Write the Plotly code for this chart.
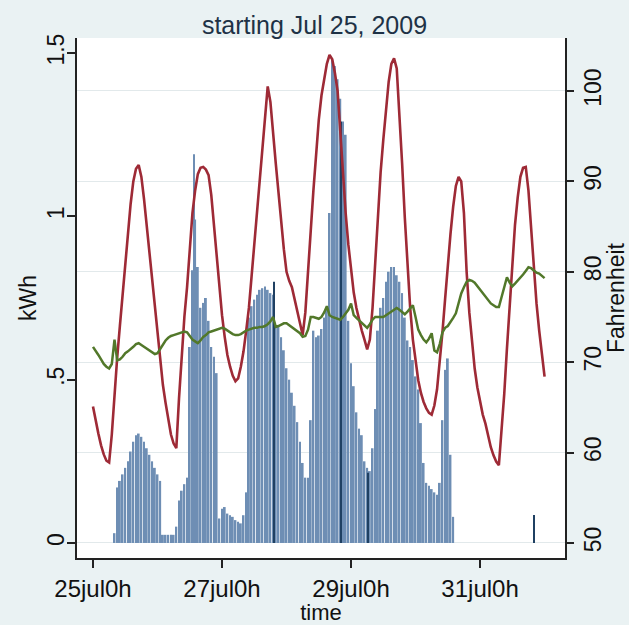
import plotly.graph_objects as go

# ---------------- data ----------------
# hourly electricity use (kWh), hours counted from Jul 25 2009 0h
bar_start_hour = 8
kwh = [
    0.03, 0.17, 0.19, 0.21, 0.23, 0.25, 0.28, 0.31, 0.33, 0.335, 0.325, 0.31, 0.29, 0.27, 0.25, 0.23, 0.21, 0.19,
    0.025, 0.025, 0.025, 0.025, 0.025,
    0.05, 0.13, 0.16, 0.18, 0.20,
    0.60, 0.835, 0.99, 0.845, 0.72, 0.735, 0.75, 0.68, 0.60, 0.57, 0.52,
    0.075, 0.105, 0.11, 0.09, 0.085, 0.08, 0.07, 0.065, 0.06, 0.085, 0.155,
    0.69, 0.725, 0.745, 0.76, 0.775, 0.78, 0.785, 0.775, 0.765, 0.76,
    0.66, 0.665, 0.63, 0.59, 0.535, 0.50, 0.46, 0.42, 0.37, 0.31, 0.245, 0.20, 0.20,
    0.376, 0.65, 0.63, 0.635, 0.655, 0.69, 0.72,
    1.01, 1.48, 1.46, 1.42, 1.36, 1.29, 1.25,
    0.68, 0.55, 0.48, 0.40, 0.35, 0.33, 0.25, 0.23, 0.22, 0.29, 0.41,
    0.65, 0.72, 0.75, 0.80, 0.83, 0.845, 0.845, 0.82, 0.80, 0.765,
    0.69, 0.62, 0.60, 0.56, 0.51, 0.47,
    0.367, 0.245, 0.184, 0.175, 0.165, 0.155, 0.148, 0.184,
    0.376, 0.53, 0.565, 0.27, 0.08,
]
bar_hours = list(range(bar_start_hour, bar_start_hour + len(kwh)))

# short extra readings (drawn as thin bars)
extra_hours = [37.5, 67.2, 92.3, 102.4, 164.0]
extra_kwh = [1.19, 0.80, 1.29, 0.215, 0.086]
extra_dark = [False, True, True, True, True]

# outdoor temperature (F), hourly from Jul 25 0h
temp_out = [
    65.1, 63.5, 62.1, 60.8, 59.8, 59.1, 58.9, 62.0, 66.5, 70.5, 74.0,
    77.5, 81.0, 84.5, 87.5, 90.0, 91.4, 91.8, 90.5, 88.0, 85.0,
    82.0, 79.0, 76.0, 73.0, 70.0, 67.5, 65.5, 63.5, 62.0, 61.0,
    60.5, 66.0, 71.0, 75.0, 78.3, 83.0, 86.5, 89.0, 90.8, 91.5,
    91.6, 91.3, 90.7, 88.5, 85.0, 81.7, 78.5, 75.2, 72.8, 70.8,
    69.5, 68.5, 67.9, 68.2, 69.5, 71.2, 73.5, 76.0, 79.5, 83.0,
    86.5, 90.3, 94.0, 97.0, 100.5, 98.8, 95.8, 92.0, 88.8, 85.5,
    82.5, 80.0, 79.0, 78.3, 77.0, 75.8, 74.5, 73.0, 75.5, 79.5,
    84.5, 89.0, 93.0, 96.8, 99.5, 101.5, 103.0, 104.0, 103.5, 102.0,
    100.0, 95.5, 90.5, 86.5, 83.0, 80.0, 77.7, 76.0, 74.6, 73.5,
    72.5, 71.4, 72.5, 76.0, 81.0, 86.5, 91.0, 94.6, 98.0, 101.0,
    103.0, 103.6, 102.5, 97.5, 92.0, 86.0, 80.5, 76.0, 72.5, 70.2,
    68.0, 66.6, 65.6, 64.9, 64.4, 64.2, 65.2, 67.0, 70.0, 73.3,
    77.0, 80.8, 84.2, 87.2, 89.5, 90.5, 90.0, 86.5, 80.0, 75.5,
    72.0, 69.3, 67.2, 65.5, 64.2, 63.2, 61.8, 60.6, 59.7, 59.0,
    58.6, 62.5, 66.5, 71.5, 76.5, 81.0, 85.2, 88.2, 90.5, 91.5,
    91.6, 89.0, 84.5, 80.0, 76.5, 73.5, 71.0, 68.4,
]

# indoor temperature (F), hourly from Jul 25 0h
temp_in = [
    71.7, 71.3, 70.8, 70.3, 69.8, 69.5, 69.3, 69.8, 72.5, 70.2, 70.3,
    70.6, 71.0, 71.2, 71.4, 71.7, 72.0, 72.1, 71.9, 71.7, 71.5,
    71.3, 71.1, 70.9, 71.0, 71.5, 72.0, 72.4, 72.7, 72.9, 73.0,
    73.1, 73.2, 73.3, 73.4, 73.3, 72.9, 72.5, 72.3, 72.1, 72.4,
    72.8, 73.0, 73.3, 73.4, 73.5, 73.6, 73.7, 73.8, 73.7, 73.5,
    73.3, 73.1, 73.0, 73.0, 73.1, 73.3, 73.5, 73.6, 73.7, 73.8,
    73.8, 73.9, 73.9, 74.0, 74.2, 74.5, 75.0, 73.9, 74.0, 74.2,
    74.3, 74.3, 74.1, 73.9, 73.7, 73.5, 73.2, 72.8, 72.9, 73.6,
    75.0, 75.0, 74.9, 74.8, 75.0, 75.5, 76.2, 75.2, 75.0, 74.9,
    74.8, 74.7, 75.0, 75.4, 75.8, 76.5, 75.2, 74.9, 74.6, 74.3,
    74.1, 73.8, 74.2, 74.7, 75.0, 75.0, 75.0, 75.0, 75.2, 75.4,
    75.6, 75.8, 76.0, 75.8, 75.5, 75.3, 75.6, 75.9, 76.3, 75.0,
    73.6, 73.0, 72.5, 72.2, 72.6, 73.2, 71.3, 71.1, 72.0, 73.3,
    73.8, 74.0, 74.4, 74.9, 75.4, 76.5, 77.6, 78.3, 78.9, 79.1,
    79.0, 78.8, 78.4, 78.0, 77.6, 77.2, 76.8, 76.5, 76.3, 76.1,
    76.1, 77.2, 78.6, 79.4, 78.8, 78.4, 78.7, 79.0, 79.3, 79.7,
    80.1, 80.5, 80.4, 80.1, 79.9, 79.8, 79.6, 79.3,
]
temp_hours = list(range(len(temp_out)))

x_tick_vals = [0, 48, 96, 144]
x_tick_text = ["25jul0h", "27jul0h", "29jul0h", "31jul0h"]
kwh_tick_vals = [0, 0.5, 1, 1.5]
kwh_tick_text = ["0", ".5", "1", "1.5"]
f_tick_vals = [50, 60, 70, 80, 90, 100]
f_tick_text = ["50", "60", "70", "80", "90", "100"]

# ---------------- figure ----------------
FONT = "Liberation Sans, Arial, sans-serif"
BAR = "#6E8EB4"
DARK = "#1F4062"
AXIS = "#222222"

fig = go.Figure()
fig.add_trace(go.Bar(x=bar_hours, y=kwh, width=0.7, marker=dict(color=BAR, line=dict(width=0)),
                     yaxis="y", showlegend=False))
fig.add_trace(go.Bar(x=extra_hours, y=extra_kwh, width=0.35,
                     marker=dict(color=[DARK if d else BAR for d in extra_dark], line=dict(width=0)),
                     yaxis="y", showlegend=False))
fig.add_trace(go.Scatter(x=temp_hours, y=temp_out, mode="lines", line=dict(color="#9E2A36", width=2.6),
                         yaxis="y2", showlegend=False))
fig.add_trace(go.Scatter(x=temp_hours, y=temp_in, mode="lines", line=dict(color="#52782A", width=2.5),
                         yaxis="y2", showlegend=False))

fig.update_layout(
    width=629, height=625,
    margin=dict(l=77, r=64, t=38, b=67, autoexpand=False),
    paper_bgcolor="#EAF2F3",
    plot_bgcolor="#FFFFFF",
    barmode="overlay",
    font=dict(family=FONT, color="#111111", size=22),
    title=dict(text="starting Jul 25, 2009", x=0.5, xanchor="center", y=1 - 25 / 625, yanchor="middle",
               font=dict(family=FONT, size=25, color="#1E3246")),
    xaxis=dict(range=[-5.95, 175.6], tickvals=x_tick_vals, ticktext=x_tick_text, automargin=False,
               showline=True, linecolor=AXIS, linewidth=1.5, ticks="outside", ticklen=8,
               tickcolor=AXIS, tickwidth=1.5, showgrid=False, zeroline=False,
               tickfont=dict(size=24), title=dict(text="time", font=dict(size=22), standoff=4)),
    yaxis=dict(range=[-0.046, 1.546], tickvals=kwh_tick_vals, ticktext=kwh_tick_text, automargin=False,
               showline=True, linecolor=AXIS, linewidth=1.5, ticks="outside", ticklen=8,
               tickcolor=AXIS, tickwidth=1.5, showgrid=False, zeroline=False, tickangle=-90,
               ticklabelstandoff=-6,
               tickfont=dict(size=23), title=dict(text="kWh", font=dict(size=23), standoff=0)),
    yaxis2=dict(range=[48.34, 105.86], tickvals=f_tick_vals, ticktext=f_tick_text,
                overlaying="y", side="right", automargin=False,
                showline=True, linecolor=AXIS, linewidth=1.5, ticks="outside", ticklen=7,
                tickcolor=AXIS, tickwidth=1.5, showgrid=True, gridcolor="#E2E9EB", gridwidth=1.2,
                zeroline=False, tickangle=-90,
                tickfont=dict(size=23), title=dict(text="Fahrenheit", font=dict(size=23), standoff=4)),
)

fig.write_html("out.html")
